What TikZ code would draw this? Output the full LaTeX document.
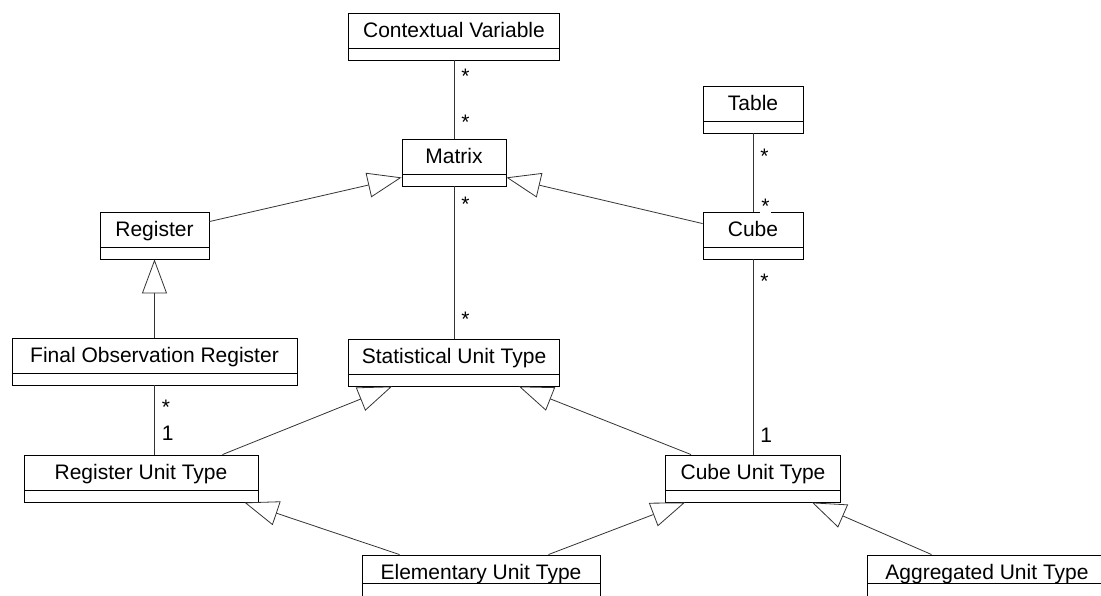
\documentclass[tikz,border=0pt]{standalone}
\usepackage{fontspec}
\setmainfont{Liberation Sans}
\usetikzlibrary{positioning,arrows.meta}
\newcommand{\umlnamebox}{35pt}

\begin{document}
\begin{tikzpicture}[
    umlclass/.style={draw=black, line width=0.9pt, rectangle, inner xsep=0pt, inner ysep=6pt,
      text height=18pt, text depth=17pt, font=\fontsize{21}{24}\selectfont,
      path picture={\draw[line width=0.9pt] ([yshift=-\umlnamebox]path picture bounding box.north west)
        -- ([yshift=-\umlnamebox]path picture bounding box.north east);}},
    cutclass/.style={umlclass, text depth=13pt, /utils/exec={\def\umlnamebox{28pt}}},
    link/.style={draw=black!80, line width=0.8pt},
    inherit/.style={link, -{Triangle[open, length=34pt, width=25pt]}},
    mult/.style={font=\fontsize{21}{24}\selectfont, inner sep=0pt, anchor=west, xshift=7pt},
  ]
  \useasboundingbox (-454pt,36.5pt) rectangle (647pt,-558.5pt);
  \node[umlclass, minimum width=211pt] (CV) {Contextual Variable};
  \node[umlclass, minimum width=104pt, on grid, below=126pt of CV] (Matrix) {Matrix};
  \node[umlclass, minimum width=109pt, on grid, below left=73pt and 299.5pt of Matrix] (Register) {Register};
  \node[umlclass, minimum width=100pt, on grid, below right=73pt and 299pt of Matrix] (Cube) {Cube};
  \node[umlclass, minimum width=100pt, on grid, above=126pt of Cube] (Table) {Table};
  \node[umlclass, minimum width=285pt, on grid, below=126pt of Register] (FOR) {Final Observation Register};
  \node[umlclass, minimum width=211pt, on grid, below=200pt of Matrix] (SUT) {Statistical Unit Type};
  \node[umlclass, minimum width=234pt, on grid, below left=117pt and 13.5pt of FOR] (RUT) {Register Unit Type};
  \node[umlclass, minimum width=175pt, on grid, below=243pt of Cube] (CUT) {Cube Unit Type};
  \node[cutclass, minimum width=238pt, on grid, below right=214pt and 27pt of SUT] (EUT) {Elementary Unit Type};
  \node[cutclass, minimum width=240pt, on grid, right=506pt of EUT] (AUT) {Aggregated Unit Type};
  \draw[link] (CV) -- (Matrix) node[mult, pos=0.2] {*} node[mult, pos=0.79] {*};
  \draw[link] (Table) -- (Cube) node[mult, pos=0.29] {*} node[mult, pos=0.93, fill=white, inner xsep=1pt] {*};
  \draw[link] (Matrix) -- (SUT) node[mult, pos=0.12] {*} node[mult, pos=0.87] {*};
  \draw[link] (Cube) -- (CUT) node[mult, pos=0.11] {*} node[mult, pos=0.9] {1};
  \draw[link] (FOR) -- (FOR |- RUT.north) node[mult, pos=0.31] {*} node[mult, pos=0.69] {1};
  \draw[inherit] ([yshift=-10pt]Register.north east) -- ([yshift=9pt]Matrix.south west);
  \draw[inherit] ([yshift=-12pt]Cube.north west) -- ([yshift=9pt]Matrix.south east);
  \draw[inherit] (FOR) -- (Register);
  \draw[inherit] ([xshift=-36pt]RUT.north east) -- ([xshift=44pt]SUT.south west);
  \draw[inherit] ([xshift=26pt]CUT.north west) -- ([xshift=-41pt]SUT.south east);
  \draw[inherit] ([xshift=38pt]EUT.north west) -- ([xshift=-14pt]RUT.south east);
  \draw[inherit] ([xshift=-52pt]EUT.north east) -- ([xshift=20pt]CUT.south west);
  \draw[inherit] ([xshift=65pt]AUT.north west) -- ([xshift=-29pt]CUT.south east);
\end{tikzpicture}
\end{document}
